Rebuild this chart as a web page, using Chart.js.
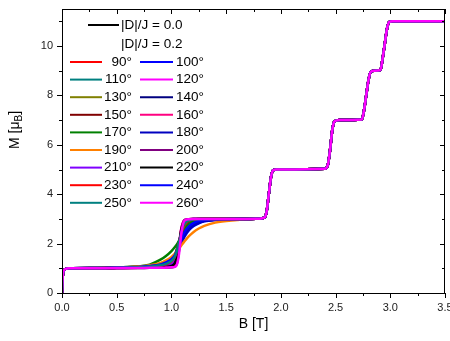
<!DOCTYPE html>
<html>
<head>
<meta charset="utf-8">
<title>M(B)</title>
<script src="https://cdn.jsdelivr.net/npm/chart.js@4.4.1/dist/chart.umd.min.js"></script>
<style>
    html, body { margin: 0; padding: 0; background: #fff; }
    #khung { width: 450px; height: 341px; }
</style>
</head>
<body>
<div id="khung"><canvas id="m-b-chart"></canvas></div>
<script>
// field start: M jumps from 0 to the 1 muB plateau
var lowB = [0, 0.005, 0.01, 0.02, 0.035, 0.06];
var lowM = [0, 0.55, 0.8, 0.93, 0.98, 1.0];

// first step 1 -> 3, where the angles differ
var stepB = [0.3, 0.5, 0.7, 0.8, 0.9, 0.95, 1.0, 1.03, 1.05, 1.07, 1.09, 1.11, 1.13, 1.16, 1.2, 1.25, 1.3, 1.4, 1.6];

// higher steps 3 -> 5 -> 7 -> 9 -> 11, same for every curve
var highB = [1.7, 1.8, 1.85, 1.87, 1.89, 1.91, 1.93, 1.96, 2.4, 2.43, 2.45, 2.47, 2.49, 2.52, 2.74, 2.76, 2.78, 2.8, 2.82, 2.85, 2.91, 2.93, 2.95, 2.97, 2.99, 3.02, 3.5];
var highM = [3.0, 3.01, 3.05, 3.3, 4.0, 4.7, 4.97, 5.0, 5.03, 5.2, 5.8, 6.6, 6.95, 7.0, 7.03, 7.4, 8.0, 8.6, 8.95, 9.0, 9.03, 9.5, 10.1, 10.7, 10.97, 11.0, 11.0];

// |D|/J = 0.0
var stepD0 = [1.0, 1.01, 1.01, 1.02, 1.02, 1.03, 1.04, 1.07, 1.2, 1.75, 2.55, 2.9, 2.97, 2.99, 3, 3, 3, 3, 3];

// |D|/J = 0.2, one row per angle
var gocLabels = ['90°', '100°', '110°', '120°', '130°', '140°', '150°', '160°', '170°', '180°', '190°', '200°', '210°', '220°', '230°', '240°', '250°', '260°'];
var gocColors = ['#ff0000', '#0000ff', '#008080', '#ff00ff', '#808000', '#000080', '#800000', '#ff0080', '#008000', '#0000c0', '#ff8000', '#800080', '#8000ff', '#000000', '#ff0000', '#0000ff', '#008080', '#ff00ff'];
var stepM = [
    [1.0, 1.02, 1.04, 1.06, 1.1, 1.15, 1.26, 1.42, 1.65, 1.98, 2.35, 2.64, 2.8, 2.91, 2.97, 2.99, 3, 3, 3],
    [1.01, 1.03, 1.06, 1.1, 1.18, 1.26, 1.38, 1.5, 1.63, 1.8, 2.0, 2.2, 2.36, 2.54, 2.7, 2.82, 2.9, 2.96, 2.99],
    [1.0, 1.02, 1.04, 1.07, 1.12, 1.18, 1.32, 1.5, 1.76, 2.1, 2.46, 2.72, 2.86, 2.94, 2.98, 3, 3, 3, 3],
    [1.0, 1.01, 1.02, 1.02, 1.03, 1.04, 1.06, 1.1, 1.3, 1.9, 2.6, 2.9, 2.97, 2.99, 3, 3, 3, 3, 3],
    [1.0, 1.02, 1.04, 1.07, 1.12, 1.17, 1.29, 1.45, 1.68, 2.02, 2.4, 2.68, 2.84, 2.93, 2.98, 3, 3, 3, 3],
    [1.01, 1.03, 1.06, 1.1, 1.19, 1.28, 1.42, 1.55, 1.7, 1.88, 2.08, 2.27, 2.43, 2.6, 2.75, 2.86, 2.92, 2.97, 3],
    [1.01, 1.02, 1.05, 1.08, 1.14, 1.22, 1.36, 1.54, 1.78, 2.08, 2.4, 2.64, 2.8, 2.91, 2.96, 2.99, 3, 3, 3],
    [1.0, 1.01, 1.02, 1.03, 1.04, 1.05, 1.08, 1.15, 1.4, 2.0, 2.6, 2.88, 2.96, 2.99, 3, 3, 3, 3, 3],
    [1.01, 1.03, 1.08, 1.15, 1.35, 1.5, 1.7, 1.85, 1.97, 2.12, 2.3, 2.5, 2.65, 2.8, 2.9, 2.95, 2.98, 3, 3],
    [1.01, 1.03, 1.06, 1.1, 1.18, 1.26, 1.4, 1.54, 1.68, 1.85, 2.05, 2.24, 2.4, 2.57, 2.72, 2.84, 2.91, 2.96, 2.99],
    [1.01, 1.03, 1.07, 1.12, 1.22, 1.32, 1.46, 1.58, 1.68, 1.8, 1.92, 2.04, 2.15, 2.3, 2.46, 2.61, 2.72, 2.85, 2.96],
    [1.0, 1.02, 1.04, 1.07, 1.12, 1.19, 1.32, 1.48, 1.72, 2.05, 2.44, 2.7, 2.85, 2.94, 2.98, 3, 3, 3, 3],
    [1.0, 1.01, 1.03, 1.04, 1.06, 1.09, 1.16, 1.3, 1.55, 1.95, 2.45, 2.78, 2.92, 2.97, 3, 3, 3, 3, 3],
    [1.0, 1.01, 1.02, 1.03, 1.04, 1.06, 1.1, 1.2, 1.45, 1.95, 2.55, 2.85, 2.95, 2.99, 3, 3, 3, 3, 3],
    [1.0, 1.02, 1.03, 1.06, 1.1, 1.16, 1.28, 1.45, 1.7, 2.02, 2.38, 2.66, 2.82, 2.93, 2.98, 3, 3, 3, 3],
    [1.01, 1.03, 1.05, 1.09, 1.16, 1.24, 1.37, 1.52, 1.7, 1.92, 2.16, 2.38, 2.54, 2.7, 2.83, 2.92, 2.96, 2.99, 3],
    [1.0, 1.02, 1.04, 1.07, 1.12, 1.18, 1.3, 1.47, 1.72, 2.06, 2.44, 2.72, 2.86, 2.94, 2.98, 3, 3, 3, 3],
    [1.0, 1.01, 1.01, 1.02, 1.02, 1.03, 1.04, 1.06, 1.15, 1.6, 2.4, 2.85, 2.96, 2.99, 3, 3, 3, 3, 3]
];

// axis ticks
var xTicks = [0, 0.5, 1.0, 1.5, 2.0, 2.5, 3.0, 3.5];
var yTicks = [0, 2, 4, 6, 8, 10];

var FONT = '"Liberation Sans", Arial, sans-serif';

function ghepDiem(buoc) {
    var pts = [];
    var i;
    for (i = 0; i < lowB.length; i++) pts.push({ x: lowB[i], y: lowM[i] });
    for (i = 0; i < stepB.length; i++) pts.push({ x: stepB[i], y: buoc[i] });
    for (i = 0; i < highB.length; i++) pts.push({ x: highB[i], y: highM[i] });
    return pts;
}

function taoDuong(label, color, buoc, order) {
    return {
        label: label,
        data: ghepDiem(buoc),
        borderColor: color,
        backgroundColor: color,
        borderWidth: 2.5,
        pointRadius: 0,
        fill: false,
        cubicInterpolationMode: 'monotone',
        order: order
    };
}

var datasets = [taoDuong('|D|/J = 0.0', '#000000', stepD0, gocLabels.length + 1)];
for (var k = 0; k < gocLabels.length; k++) {
    datasets.push(taoDuong(gocLabels[k], gocColors[k], stepM[k], gocLabels.length - k));
}

// frame with Origin-style ticks (outside left/bottom, inside top/right)
var khungTruc = {
    id: 'khungTruc',
    afterDatasetsDraw: function(chart) {
        var ctx = chart.ctx;
        var a = chart.chartArea;
        var sx = chart.scales.x;
        var sy = chart.scales.y;
        var v, p, len;
        ctx.save();
        ctx.strokeStyle = '#000';
        ctx.lineWidth = 1;
        ctx.strokeRect(a.left + 0.5, a.top + 0.5, a.right - a.left - 1, a.bottom - a.top);
        ctx.beginPath();
        for (v = 0; v <= 3.5001; v += 0.25) {
            p = Math.round(sx.getPixelForValue(v)) + 0.5;
            len = (Math.abs(v * 2 - Math.round(v * 2)) < 0.01) ? 5 : 3;
            ctx.moveTo(p, a.bottom); ctx.lineTo(p, a.bottom + len);
            ctx.moveTo(p, a.top); ctx.lineTo(p, a.top + len);
        }
        for (v = 0; v <= 11; v += 1) {
            p = Math.round(sy.getPixelForValue(v)) + 0.5;
            len = (v % 2 === 0) ? 5 : 3;
            ctx.moveTo(a.left, p); ctx.lineTo(a.left - len, p);
            ctx.moveTo(a.right, p); ctx.lineTo(a.right - len, p);
        }
        ctx.stroke();
        ctx.restore();
    },
    afterDraw: function(chart) {
        var ctx = chart.ctx;
        var a = chart.chartArea;
        ctx.save();
        ctx.fillStyle = '#000';

        // x axis title
        ctx.font = '14px ' + FONT;
        ctx.textAlign = 'center';
        ctx.textBaseline = 'middle';
        ctx.fillText('B [T]', (a.left + a.right) / 2, 324);

        // y axis title with subscript B
        ctx.translate(15, 130);
        ctx.rotate(-Math.PI / 2);
        ctx.textAlign = 'left';
        var t1 = 'M [\u03bc';
        var w1 = ctx.measureText(t1).width;
        ctx.font = '10px ' + FONT;
        var w2 = ctx.measureText('B').width;
        ctx.font = '14px ' + FONT;
        var w3 = ctx.measureText(']').width;
        var x0 = -(w1 + w2 + w3) / 2;
        ctx.fillText(t1, x0, 0);
        ctx.font = '10px ' + FONT;
        ctx.fillText('B', x0 + w1, 4);
        ctx.font = '14px ' + FONT;
        ctx.fillText(']', x0 + w1 + w2, 0);
        ctx.restore();

        // legend
        ctx.save();
        ctx.font = '13.5px ' + FONT;
        ctx.textBaseline = 'middle';
        ctx.lineWidth = 2;
        ctx.fillStyle = '#000';
        ctx.strokeStyle = '#000';
        ctx.beginPath(); ctx.moveTo(88, 25); ctx.lineTo(119, 25); ctx.stroke();
        ctx.textAlign = 'left';
        ctx.fillText('|D|/J = 0.0', 121, 25);
        ctx.fillText('|D|/J = 0.2', 121, 44);
        for (var i = 0; i < gocLabels.length; i++) {
            var hang = Math.floor(i / 2);
            var y = 62 + hang * 17.6;
            var cot = i % 2;
            ctx.strokeStyle = gocColors[i];
            ctx.beginPath();
            if (cot === 0) {
                ctx.moveTo(70, y); ctx.lineTo(102, y);
            } else {
                ctx.moveTo(140, y); ctx.lineTo(173, y);
            }
            ctx.stroke();
            if (cot === 0) {
                ctx.textAlign = 'right';
                ctx.fillText(gocLabels[i], 132, y);
            } else {
                ctx.textAlign = 'left';
                ctx.fillText(gocLabels[i], 176, y);
            }
        }
        ctx.restore();
    }
};

var mChart = new Chart(document.getElementById('m-b-chart'), {
    type: 'line',
    data: { datasets: datasets },
    options: {
        responsive: true,
        maintainAspectRatio: false,
        animation: false,
        layout: { padding: { top: 9, right: 5, left: 0, bottom: 0 } },
        plugins: {
            legend: { display: false },
            tooltip: { enabled: false }
        },
        scales: {
            x: {
                type: 'linear',
                min: 0,
                max: 3.5,
                afterFit: function(scale) {
                    scale.height = 48;
                    scale.paddingLeft = 0;
                    scale.paddingRight = 0;
                },
                afterBuildTicks: function(scale) {
                    scale.ticks = xTicks.map(function(v) { return { value: v }; });
                },
                grid: { display: false, drawTicks: false },
                border: { display: false },
                ticks: {
                    padding: 8,
                    color: '#222',
                    font: { family: FONT, size: 11 },
                    maxRotation: 0,
                    callback: function(value) { return value.toFixed(1); }
                }
            },
            y: {
                min: 0,
                max: 11.5,
                afterFit: function(scale) {
                    scale.width = 62;
                    scale.paddingTop = 0;
                    scale.paddingBottom = 0;
                },
                afterBuildTicks: function(scale) {
                    scale.ticks = yTicks.map(function(v) { return { value: v }; });
                },
                grid: { display: false, drawTicks: false },
                border: { display: false },
                ticks: {
                    padding: 9,
                    color: '#222',
                    font: { family: FONT, size: 11 }
                }
            }
        }
    },
    plugins: [khungTruc]
});
</script>
</body>
</html>
